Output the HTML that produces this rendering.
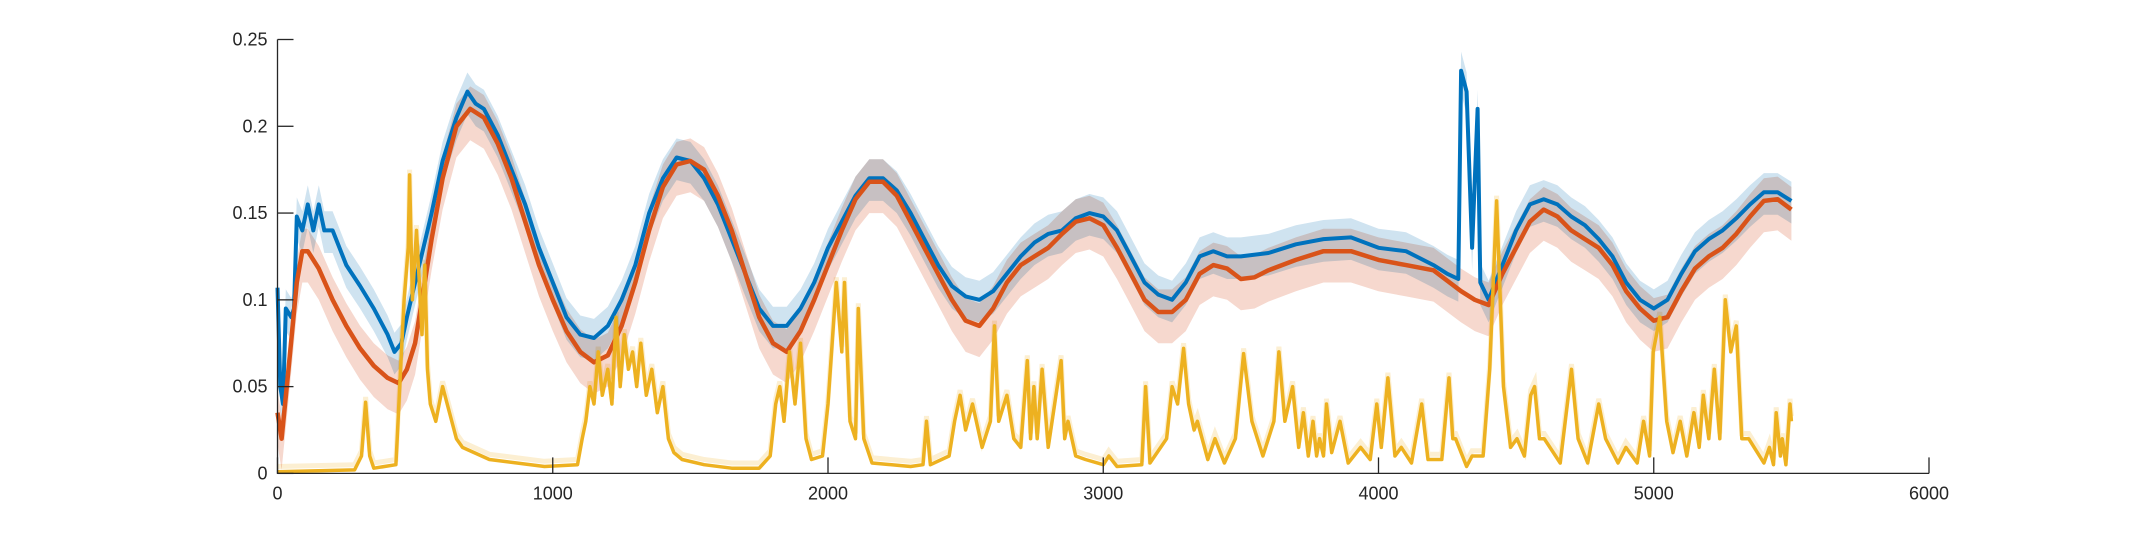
<!DOCTYPE html>
<html><head><meta charset="utf-8"><style>
html,body{margin:0;padding:0;background:#fff;}
svg{display:block;}
text{font-family:"Liberation Sans",sans-serif;font-size:18px;fill:#262626;}
</style></head><body>
<svg id="chart" width="2133" height="533" viewBox="0 0 2133 533" xmlns="http://www.w3.org/2000/svg">
<g id="bands"></g>
<g id="lines"></g>
<g id="axes"></g>
</svg>
<script>
const xTicks=[0,1000,2000,3000,4000,5000,6000];
const yTicks=[0,0.05,0.1,0.15,0.2,0.25];
const yTickLabels=["0","0.05","0.1","0.15","0.2","0.25"];
const blueX=[0,10,20,30,50,60,70,90,110,130,150,170,200,250,300,350,400,425,450,470,500,530,560,600,650,690,720,750,800,850,900,950,1000,1050,1100,1150,1200,1250,1300,1350,1400,1450,1500,1550,1600,1650,1700,1750,1800,1850,1900,1950,2000,2050,2100,2150,2200,2250,2300,2350,2400,2450,2500,2550,2600,2650,2700,2750,2800,2850,2900,2950,3000,3050,3100,3150,3200,3250,3300,3350,3400,3450,3500,3600,3700,3800,3900,4000,4100,4200,4250,4290,4300,4320,4340,4360,4370,4400,4450,4500,4550,4600,4650,4700,4750,4800,4850,4900,4950,5000,5050,5100,5150,5200,5250,5300,5350,5400,5450,5500];
const blueV=[0.107,0.05,0.04,0.095,0.09,0.095,0.148,0.14,0.155,0.14,0.155,0.14,0.14,0.12,0.108,0.095,0.08,0.07,0.075,0.09,0.11,0.13,0.15,0.18,0.205,0.22,0.213,0.21,0.195,0.175,0.155,0.13,0.11,0.09,0.08,0.078,0.085,0.1,0.12,0.15,0.17,0.182,0.18,0.17,0.155,0.135,0.115,0.095,0.085,0.085,0.095,0.11,0.13,0.145,0.16,0.17,0.17,0.163,0.15,0.135,0.12,0.108,0.102,0.1,0.105,0.115,0.125,0.133,0.138,0.14,0.147,0.15,0.148,0.14,0.125,0.11,0.103,0.1,0.11,0.125,0.128,0.125,0.125,0.127,0.132,0.135,0.136,0.13,0.128,0.12,0.115,0.112,0.232,0.22,0.13,0.21,0.11,0.1,0.12,0.14,0.155,0.158,0.155,0.148,0.143,0.135,0.125,0.11,0.1,0.095,0.1,0.115,0.128,0.135,0.14,0.147,0.155,0.162,0.162,0.157];
const redX=[0,15,40,70,90,110,150,200,250,300,350,400,440,470,500,530,560,600,650,700,750,800,850,900,950,1000,1050,1100,1150,1200,1250,1300,1350,1400,1450,1500,1550,1600,1650,1700,1750,1800,1850,1900,1950,2000,2050,2100,2150,2200,2250,2300,2350,2400,2450,2500,2550,2600,2650,2700,2750,2800,2850,2900,2950,3000,3050,3100,3150,3200,3250,3300,3350,3400,3450,3500,3550,3600,3700,3800,3900,4000,4100,4200,4300,4350,4400,4450,4500,4550,4600,4650,4700,4750,4800,4850,4900,4950,5000,5050,5100,5150,5200,5250,5300,5350,5400,5450,5500];
const redV=[0.035,0.02,0.06,0.11,0.128,0.128,0.118,0.1,0.085,0.072,0.062,0.055,0.052,0.06,0.075,0.105,0.135,0.17,0.2,0.21,0.205,0.19,0.17,0.145,0.12,0.1,0.082,0.07,0.064,0.068,0.085,0.11,0.14,0.165,0.178,0.18,0.175,0.16,0.14,0.115,0.09,0.075,0.07,0.082,0.1,0.12,0.14,0.158,0.168,0.168,0.16,0.145,0.13,0.115,0.1,0.088,0.085,0.095,0.11,0.12,0.125,0.13,0.138,0.145,0.147,0.143,0.13,0.115,0.1,0.093,0.093,0.1,0.115,0.12,0.118,0.112,0.113,0.117,0.123,0.128,0.128,0.123,0.12,0.117,0.105,0.1,0.097,0.115,0.13,0.145,0.152,0.148,0.14,0.135,0.13,0.12,0.105,0.095,0.088,0.09,0.105,0.118,0.125,0.13,0.138,0.148,0.157,0.158,0.152];
const yellowX=[0,280,305,320,335,350,430,435,450,460,475,480,490,505,515,525,535,545,555,575,600,625,650,672,770,970,1090,1107,1120,1135,1150,1165,1180,1200,1215,1230,1245,1260,1275,1290,1305,1320,1340,1360,1380,1400,1420,1440,1470,1550,1650,1750,1790,1810,1825,1840,1860,1880,1900,1920,1940,1980,2000,2030,2050,2060,2080,2100,2110,2130,2160,2300,2345,2358,2372,2440,2460,2480,2500,2525,2560,2590,2605,2620,2650,2675,2700,2724,2736,2748,2760,2778,2800,2847,2860,2872,2900,2935,3000,3020,3050,3140,3154,3170,3230,3250,3270,3292,3310,3330,3342,3380,3406,3440,3480,3510,3540,3580,3620,3638,3660,3688,3710,3727,3745,3762,3775,3786,3800,3811,3830,3860,3890,3935,3970,3994,4010,4034,4060,4083,4120,4157,4180,4230,4256,4270,4280,4320,4340,4380,4404,4429,4454,4480,4503,4530,4553,4567,4585,4602,4660,4701,4725,4760,4800,4825,4870,4899,4940,4963,4985,4998,5022,5047,5070,5096,5120,5146,5165,5180,5200,5220,5240,5260,5280,5300,5320,5345,5400,5420,5435,5445,5460,5467,5480,5495,5500];
const yellowV=[0.001,0.002,0.01,0.041,0.01,0.003,0.005,0.02,0.07,0.1,0.13,0.172,0.1,0.14,0.11,0.08,0.12,0.06,0.04,0.03,0.05,0.035,0.02,0.015,0.008,0.004,0.005,0.02,0.03,0.05,0.04,0.07,0.045,0.06,0.04,0.09,0.05,0.08,0.06,0.07,0.05,0.075,0.045,0.06,0.035,0.05,0.02,0.012,0.008,0.005,0.003,0.003,0.01,0.04,0.05,0.03,0.07,0.04,0.075,0.02,0.008,0.01,0.04,0.11,0.07,0.11,0.03,0.02,0.095,0.02,0.006,0.004,0.005,0.03,0.005,0.01,0.03,0.045,0.025,0.04,0.015,0.03,0.085,0.03,0.045,0.02,0.015,0.065,0.02,0.05,0.02,0.06,0.015,0.065,0.02,0.03,0.01,0.008,0.005,0.01,0.004,0.005,0.05,0.006,0.02,0.05,0.04,0.072,0.04,0.025,0.03,0.008,0.02,0.006,0.02,0.069,0.03,0.01,0.03,0.07,0.03,0.05,0.015,0.035,0.01,0.03,0.01,0.02,0.01,0.04,0.012,0.03,0.006,0.015,0.008,0.04,0.015,0.055,0.01,0.015,0.006,0.04,0.008,0.008,0.055,0.02,0.02,0.004,0.01,0.01,0.06,0.157,0.05,0.015,0.02,0.01,0.045,0.05,0.02,0.02,0.006,0.06,0.02,0.006,0.04,0.02,0.006,0.015,0.006,0.03,0.01,0.07,0.09,0.03,0.012,0.03,0.01,0.035,0.015,0.045,0.02,0.06,0.02,0.1,0.07,0.085,0.02,0.02,0.006,0.015,0.005,0.035,0.01,0.02,0.005,0.04,0.03];

const X0=277.5,X1=1929,Y0=473.4,Y1=39.5;
function sx(v){return X0+(v/6000)*(X1-X0);}
function sy(v){return Y0-(v/0.25)*(Y0-Y1);}
const NS='http://www.w3.org/2000/svg';
function mk(tag,parent){const e=document.createElementNS(NS,tag);parent.appendChild(e);return e;}
function linePath(xs,vs,off){return xs.map((x,i)=>(i?'L':'M')+sx(x).toFixed(1)+','+sy(vs[i]+off).toFixed(1)).join('');}
function bandPath(xs,vs,lo,hi){
  let d=xs.map((x,i)=>(i?'L':'M')+sx(x).toFixed(1)+','+sy(vs[i]+hi).toFixed(1)).join('');
  for(let i=xs.length-1;i>=0;i--)d+='L'+sx(xs[i]).toFixed(1)+','+sy(Math.max(0,vs[i]-lo)).toFixed(1);
  return d+'Z';
}
const bands=document.getElementById('bands'),lines=document.getElementById('lines'),axes=document.getElementById('axes');

const bb=mk('path',bands);


bb.setAttribute('d',bandPath(blueX,blueV,0.013,0.011));
bb.setAttribute('fill','#cfe3f0');bb.style.mixBlendMode='multiply';
const rb=mk('path',bands);


rb.setAttribute('d',bandPath(redX,redV,0.018,0.013));
rb.setAttribute('fill','#f6d8ce');rb.style.mixBlendMode='multiply';
const yb=mk('path',bands);


yb.setAttribute('d',linePath(yellowX,yellowV,0.003));
yb.setAttribute('fill','none');yb.setAttribute('stroke','#fcefd2');yb.setAttribute('stroke-width','5');yb.style.mixBlendMode='multiply';

const series=[['blue-line',blueX,blueV,'#0072BD',4],['red-line',redX,redV,'#D95319',4.5],['yellow-line',yellowX,yellowV,'#EDB120',3.5]];
series.forEach(s=>{
  const p=mk('path',lines);
  
  
  p.setAttribute('d',linePath(s[1],s[2],0));
  p.setAttribute('fill','none');p.setAttribute('stroke',s[3]);p.setAttribute('stroke-width',s[4]);
  p.setAttribute('stroke-linejoin','round');
});

const ax=mk('path',axes);


ax.setAttribute('d','M'+X0+','+Y1+'L'+X0+','+Y0+'L'+X1+','+Y0);
ax.setAttribute('fill','none');ax.setAttribute('stroke','#262626');ax.setAttribute('stroke-width','1.3');
xTicks.forEach(t=>{
  const l=mk('line',axes);
  
  
  l.setAttribute('x1',sx(t));l.setAttribute('x2',sx(t));l.setAttribute('y1',Y0);l.setAttribute('y2',Y0-16);
  l.setAttribute('stroke','#262626');l.setAttribute('stroke-width','1.3');
  const tx=mk('text',axes);
  
  
  tx.setAttribute('x',sx(t));tx.setAttribute('y',Y0+26);tx.setAttribute('text-anchor','middle');
  tx.textContent=String(t);
});
yTicks.forEach((t,i)=>{
  const l=mk('line',axes);
  
  
  l.setAttribute('x1',X0);l.setAttribute('x2',X0+16);l.setAttribute('y1',sy(t));l.setAttribute('y2',sy(t));
  l.setAttribute('stroke','#262626');l.setAttribute('stroke-width','1.3');
  const tx=mk('text',axes);
  
  
  tx.setAttribute('x',X0-10);tx.setAttribute('y',sy(t)+6);tx.setAttribute('text-anchor','end');
  tx.textContent=yTickLabels[i];
});
</script>
</body></html>
